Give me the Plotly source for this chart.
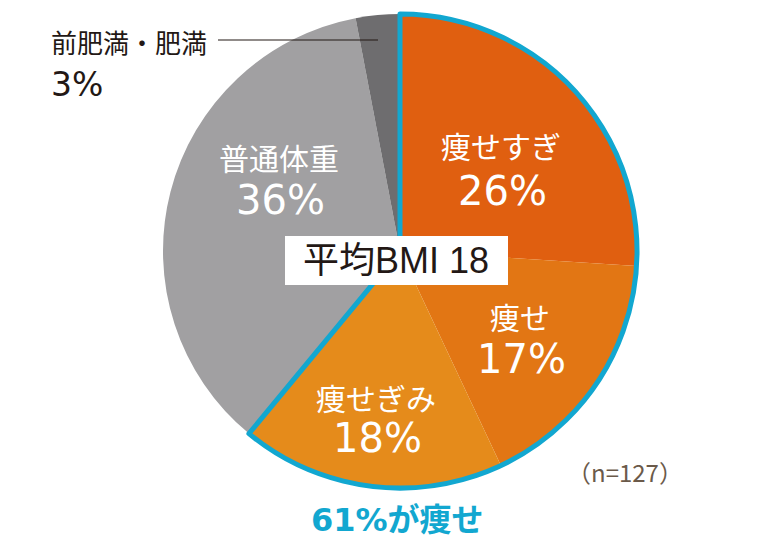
import plotly.graph_objects as go

labels = ["痩せすぎ", "痩せ", "痩せぎみ", "普通体重", "前肥満・肥満"]
values = [26, 17, 18, 36, 3]
colors = ["#e05f10", "#e27614", "#e58b1b", "#a1a0a2", "#6e6d6f"]
thin_total = sum(values[:3])
group_values = [thin_total, sum(values) - thin_total]

FONT = "Liberation Sans, Noto Sans CJK JP, sans-serif"
NUM = "DejaVu Sans, Noto Sans CJK JP, sans-serif"
JP = "Noto Sans CJK JP, sans-serif"
BLUE = "#12a7d0"
DARK = "#231815"

# page body has an 8px margin, so the figure sits at (8, 8)
W, H, OFF = 752, 534, 8


def px2paper(x, y):
    return (x - OFF) / W, 1 - (y - OFF) / H


cx, cy, r = 400, 251, 237
domain = dict(x=[(cx - OFF - r) / W, (cx - OFF + r) / W],
              y=[1 - (cy - OFF + r) / H, 1 - (cy - OFF - r) / H])

fig = go.Figure()
fig.add_trace(go.Pie(
    labels=labels, values=values, sort=False, direction="clockwise", rotation=0,
    marker=dict(colors=colors, line=dict(width=0)),
    textinfo="none", hoverinfo="label+percent", showlegend=False, domain=domain,
))
fig.add_trace(go.Pie(
    labels=["痩せ計", "その他"], values=group_values, sort=False, direction="clockwise", rotation=0,
    marker=dict(colors=["rgba(0,0,0,0)", "rgba(0,0,0,0)"],
                line=dict(color=[BLUE, "rgba(0,0,0,0)"], width=5)),
    textinfo="none", hoverinfo="skip", showlegend=False, domain=domain,
))


def text(x, y, s, size, color, family=FONT, xanchor="center"):
    px, py = px2paper(x, y)
    fig.add_annotation(x=px, y=py, xref="paper", yref="paper", text=s, showarrow=False,
                       xanchor=xanchor, yanchor="middle", borderpad=0,
                       font=dict(family=family, size=size, color=color))


# slice labels (name + percent)
label_pos = [(501, 145, 191), (520, 316, 359), (376, 397, 438), (279, 157, 200)]
for (lx, ly1, ly2), name, v in zip(label_pos, labels, values):
    text(lx, ly1, name, 30, "white", JP)
    text(lx + 1, ly2, f"{v}%", 40, "white", NUM)

# 前肥満・肥満 callout
text(50, 41, labels[4], 26, DARK, JP, xanchor="left")
text(50, 84, f"{values[4]}%", 33, DARK, NUM, xanchor="left")
x0, y0 = px2paper(218, 40)
x1, _ = px2paper(378, 40)
fig.add_shape(type="line", xref="paper", yref="paper", x0=x0, x1=x1, y0=y0, y1=y0,
              line=dict(color=DARK, width=1.2))

# average BMI box
bx0, by0 = px2paper(285, 285)
bx1, by1 = px2paper(508, 236)
fig.add_shape(type="rect", xref="paper", yref="paper", x0=bx0, x1=bx1, y0=by0, y1=by1,
              fillcolor="white", line=dict(width=0))
text(396, 261, "平均BMI 18", 36, DARK)

text(625, 471, "（n=127）", 24, "#6b5a4a", JP)
text(398, 520, f"<b>{thin_total}%が痩せ</b>", 32, BLUE, NUM)

fig.update_layout(
    width=W, height=H,
    margin=dict(l=0, r=0, t=0, b=0),
    paper_bgcolor="white", plot_bgcolor="white",
)
fig.write_html("out.html")
